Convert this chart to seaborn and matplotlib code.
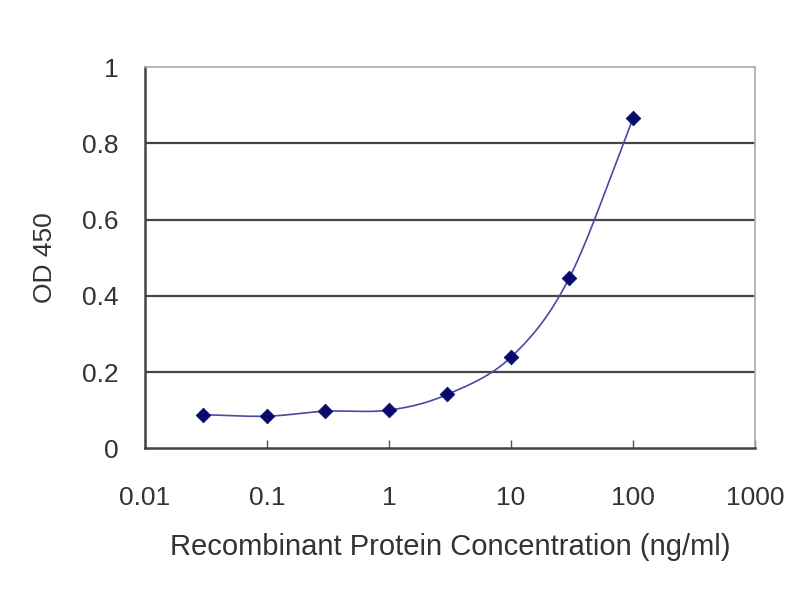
import numpy as np
import pandas as pd
import matplotlib
matplotlib.use("Agg")
import matplotlib.pyplot as plt
import seaborn as sns

concentration = [0.03, 0.1, 0.3, 1, 3, 10, 30, 100]
od450 = [0.088, 0.084, 0.097, 0.100, 0.141, 0.239, 0.447, 0.866]
x_ticks = [0.01, 0.1, 1, 10, 100, 1000]
x_tick_labels = ["0.01", "0.1", "1", "10", "100", "1000"]
y_ticks = [0, 0.2, 0.4, 0.6, 0.8, 1]
y_tick_labels = ["0", "0.2", "0.4", "0.6", "0.8", "1"]

df = pd.DataFrame({"conc": concentration, "od": od450})


# smoothed line through the points (Catmull-Rom in log-x), like a spreadsheet "smooth line"
def smooth_curve(xs, ys, n=40):
    lx = np.log10(xs)
    ys = np.asarray(ys, dtype=float)
    px = np.concatenate([[2 * lx[0] - lx[1]], lx, [2 * lx[-1] - lx[-2]]])
    py = np.concatenate([[2 * ys[0] - ys[1]], ys, [2 * ys[-1] - ys[-2]]])
    out_x, out_y = [], []
    for i in range(1, len(px) - 2):
        t = np.linspace(0, 1, n, endpoint=False)
        for arr, out in ((px, out_x), (py, out_y)):
            p0, p1, p2, p3 = arr[i - 1], arr[i], arr[i + 1], arr[i + 2]
            out.extend(0.5 * (2 * p1 + (-p0 + p2) * t
                              + (2 * p0 - 5 * p1 + 4 * p2 - p3) * t ** 2
                              + (-p0 + 3 * p1 - 3 * p2 + p3) * t ** 3))
    out_x.append(lx[-1])
    out_y.append(ys[-1])
    return 10 ** np.array(out_x), np.array(out_y)


cx, cy = smooth_curve(concentration, od450)
curve = pd.DataFrame({"conc": cx, "od": cy})

sns.set_style("white")
plt.rcParams["font.family"] = ["Liberation Sans", "DejaVu Sans"]

fig = plt.figure(figsize=(8, 6), dpi=100)
ax = fig.add_axes([0.181, 0.253, 0.763, 0.635])

sns.lineplot(data=curve, x="conc", y="od", ax=ax, color="#4a4aa0", linewidth=1.2, sort=False)
sns.scatterplot(data=df, x="conc", y="od", ax=ax, marker="D", s=55, color="#0a0a6e",
                edgecolor="#0a0a6e", zorder=5)

ax.set_xscale("log")
ax.set_xlim(0.01, 1000)
ax.set_ylim(0, 1)
ax.set_xticks(x_ticks)
ax.set_xticklabels(x_tick_labels)
ax.minorticks_off()
ax.set_yticks(y_ticks)
ax.set_yticklabels(y_tick_labels)

for v in y_ticks[1:-1]:
    ax.axhline(v, color="#444444", linewidth=1.6, zorder=1)

ax.tick_params(axis="x", direction="in", length=6, width=1, colors="#555555",
               labelcolor="#333333", labelsize=19, pad=27, bottom=True)
ax.tick_params(axis="y", length=0, labelcolor="#333333", labelsize=19, pad=19)

for side in ["left", "bottom"]:
    ax.spines[side].set_color("#444444")
    ax.spines[side].set_linewidth(1.8)
for side in ["top", "right"]:
    ax.spines[side].set_color("#aaaaaa")
    ax.spines[side].set_linewidth(1.2)

ax.set_xlabel("Recombinant Protein Concentration (ng/ml)", fontsize=21, color="#333333", labelpad=17)
ax.set_ylabel("OD 450", fontsize=19, color="#333333", labelpad=18)

fig.savefig("out.png", dpi=100)
